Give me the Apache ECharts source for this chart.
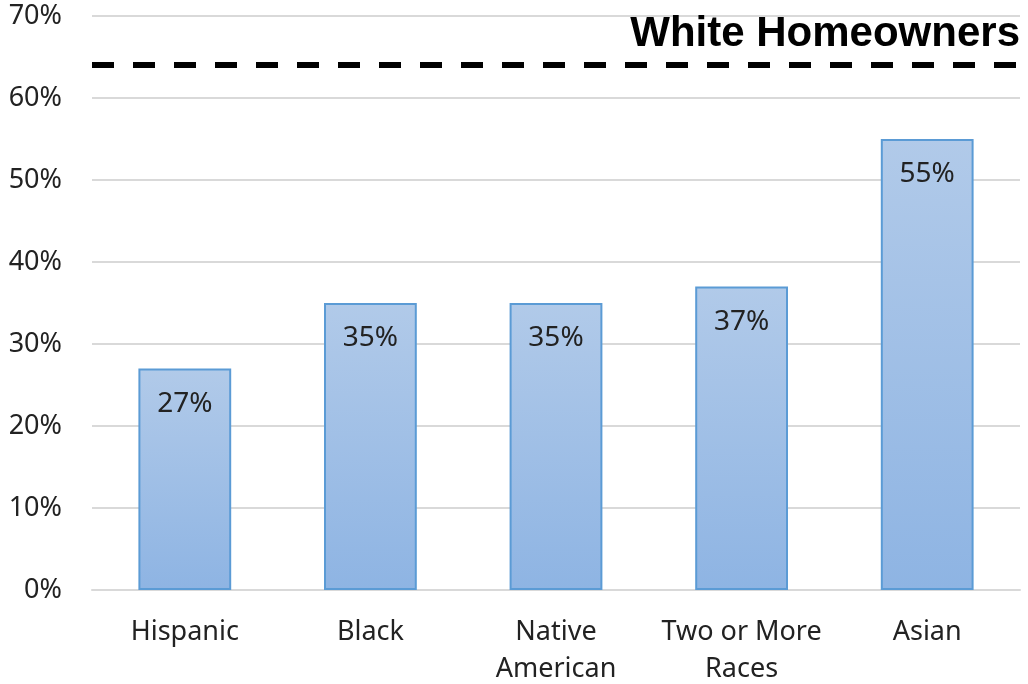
<!DOCTYPE html>
<html>
<head>
<meta charset="utf-8">
<script src="https://cdn.jsdelivr.net/npm/echarts@6/dist/echarts.min.js"></script>
<style>html,body{margin:0;padding:0;background:#fff}#c{width:1028px;height:684px}</style>
</head>
<body>
<div id="c"></div>
<script>
const categories = ['Hispanic', 'Black', 'Native\nAmerican', 'Two or More\nRaces', 'Asian'];
const values = [27, 35, 35, 37, 55];
const whiteRate = 64;
const whiteLabel = 'White Homeowners';
const yTicks = { min: 0, max: 70, interval: 10 };

const chart = echarts.init(document.getElementById('c'));
chart.setOption({
  animation: false,
  grid: { left: 92, right: 8, top: 16, bottom: 94, containLabel: false, outerBoundsMode: 'none' },
  xAxis: {
    type: 'category',
    data: categories,
    axisLine: { lineStyle: { color: '#d9d9d9', width: 2 } },
    axisTick: { show: false },
    axisLabel: { interval: 0, color: '#222', fontFamily: 'Noto Sans', fontSize: 27, margin: 24, lineHeight: 37 }
  },
  yAxis: {
    type: 'value',
    min: yTicks.min, max: yTicks.max, interval: yTicks.interval,
    axisLine: { show: false },
    axisTick: { show: false },
    splitLine: { lineStyle: { color: '#d9d9d9', width: 2 } },
    axisLabel: { color: '#222', fontFamily: 'Noto Sans', fontSize: 27, margin: 30, formatter: '{value}%' }
  },
  series: [{
    type: 'bar',
    data: values,
    barWidth: '50%',
    itemStyle: {
      color: new echarts.graphic.LinearGradient(0, 0, 0, 1, [
        { offset: 0, color: '#b1cae9' },
        { offset: 1, color: '#8eb4e3' }
      ]),
      borderColor: '#5b9bd5',
      borderWidth: 2
    },
    label: {
      show: true, position: 'insideTop', distance: 21,
      formatter: '{c}%', color: '#222', fontFamily: 'Noto Sans', fontSize: 28
    },
    markLine: {
      silent: true,
      symbol: 'none',
      lineStyle: { color: '#000', width: 6, type: [22, 19] },
      label: {
        show: true, position: 'insideEndTop', formatter: whiteLabel,
        color: '#000', fontFamily: 'Liberation Sans', fontWeight: 'bold', fontSize: 42, distance: [0, 10]
      },
      data: [{ yAxis: whiteRate }]
    }
  }]
});
</script>
</body>
</html>
